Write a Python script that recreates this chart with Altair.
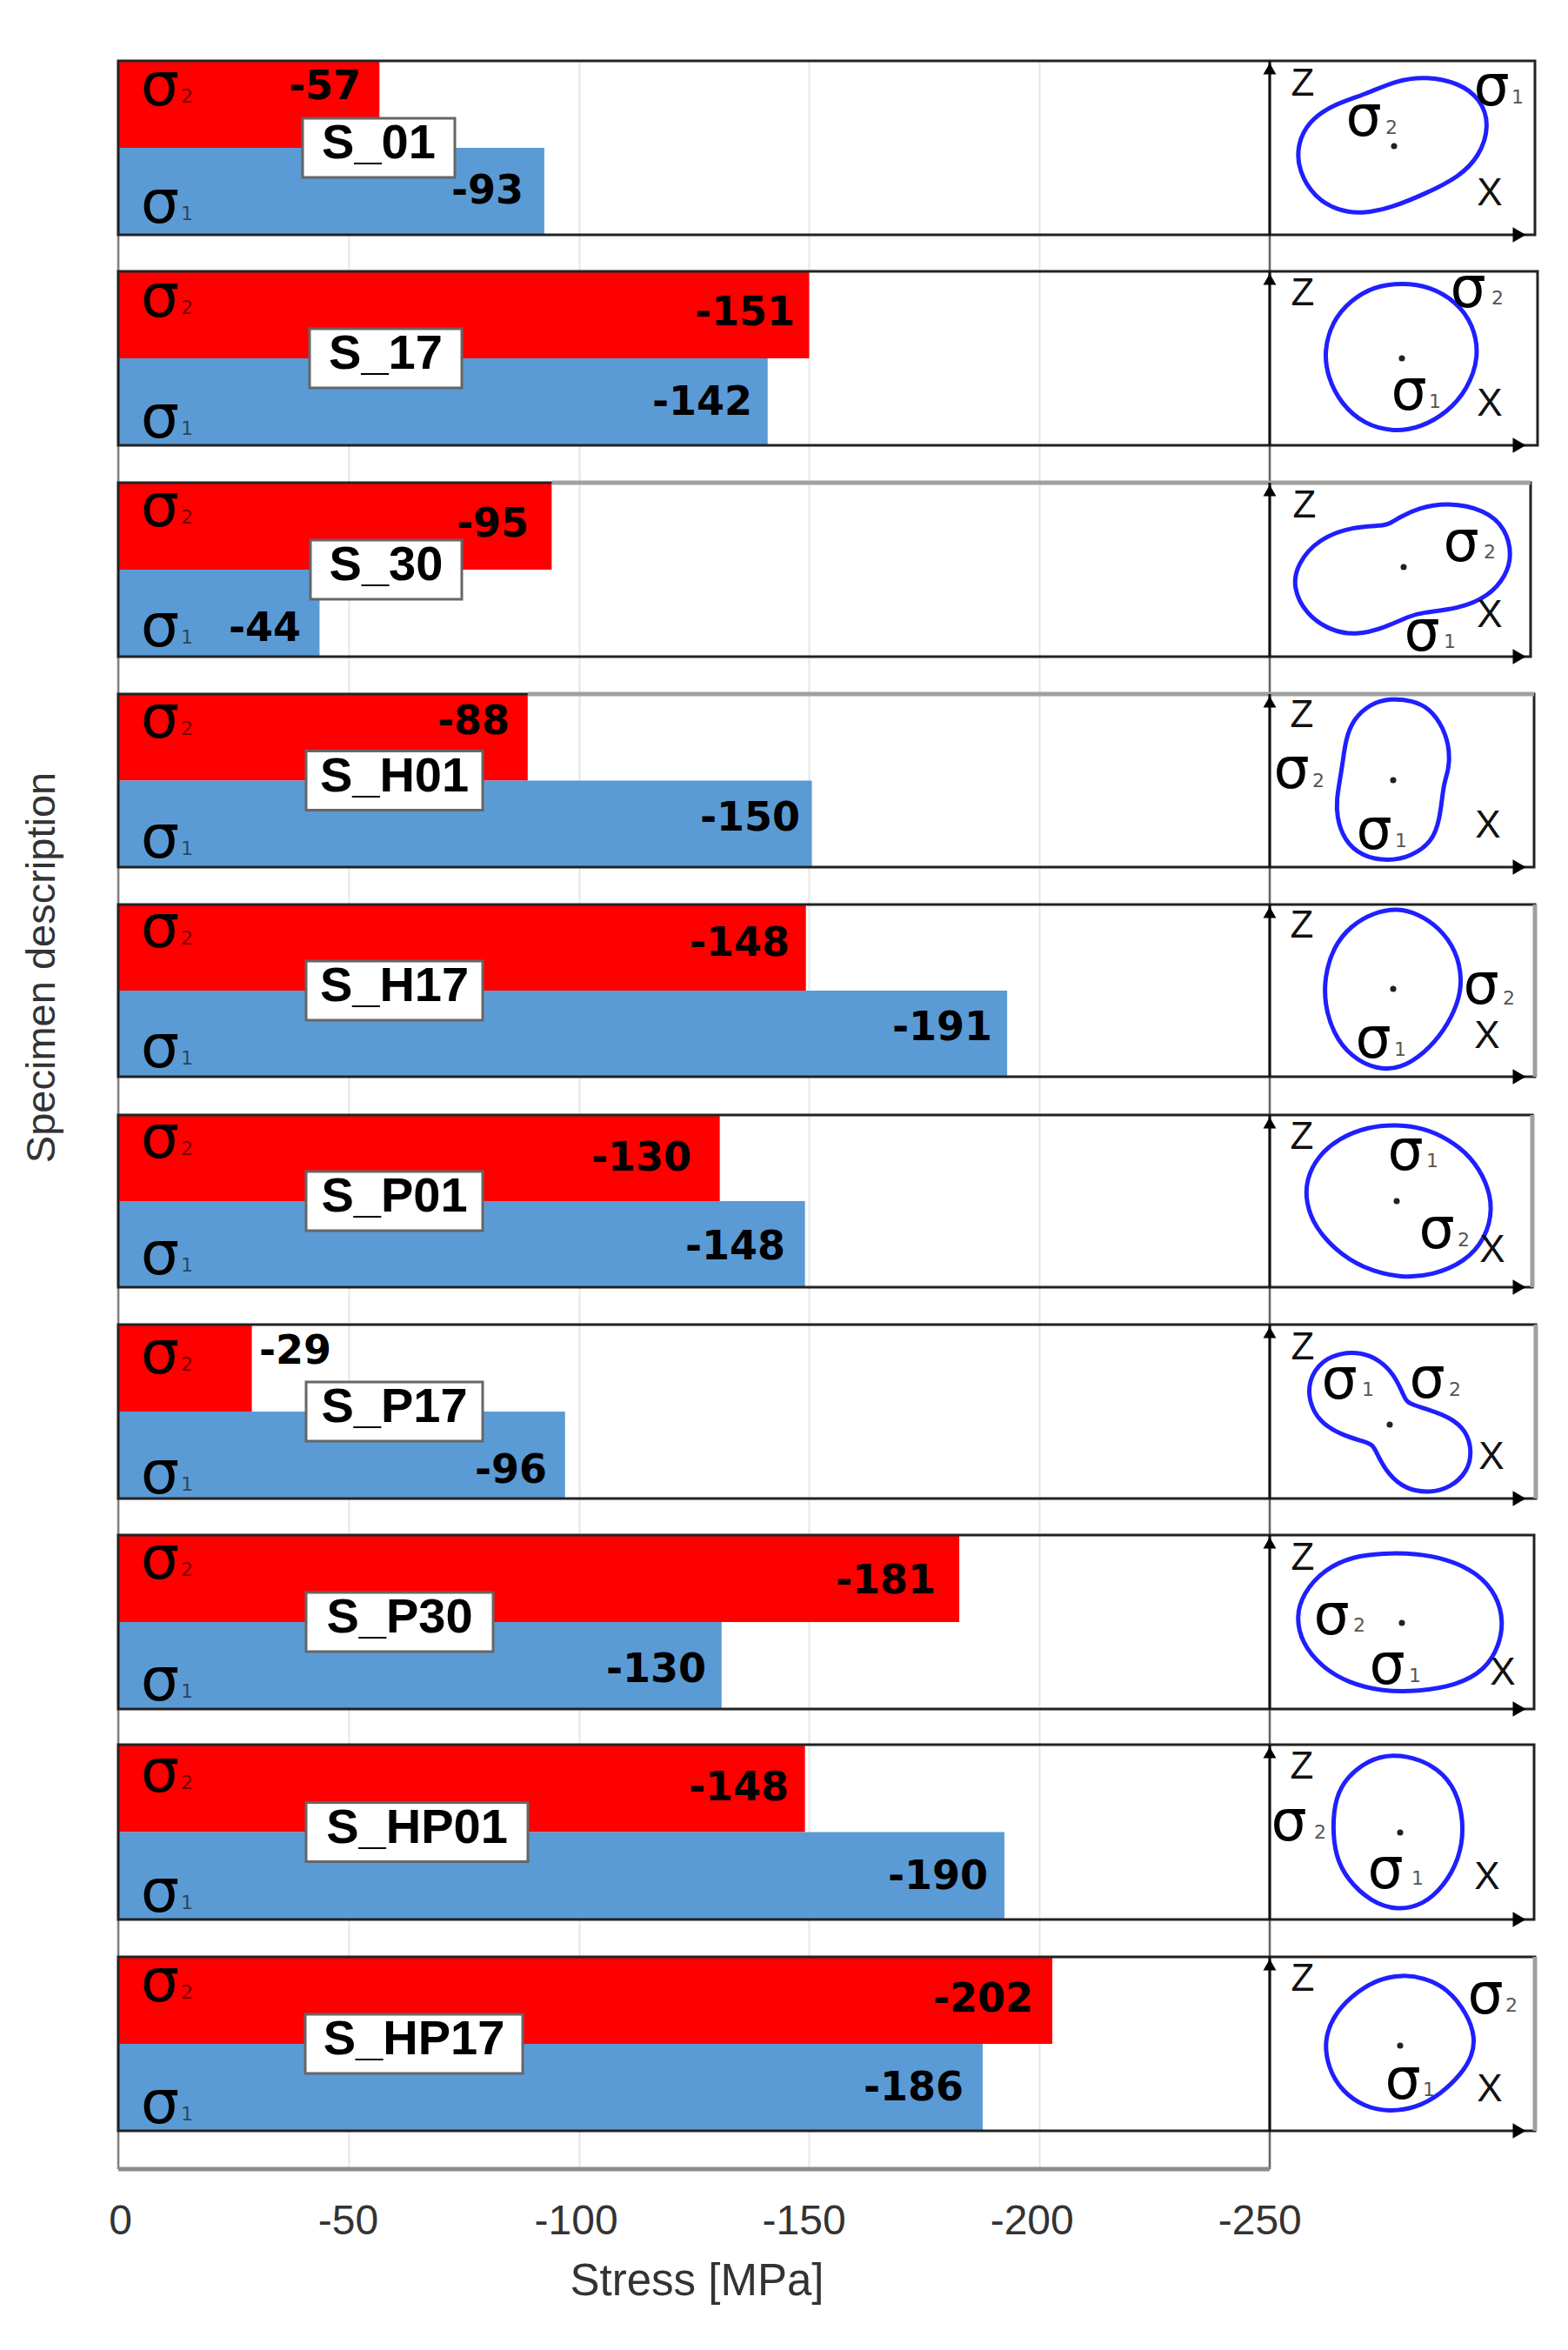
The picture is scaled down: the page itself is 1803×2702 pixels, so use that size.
import altair as alt
import pandas as pd

SPECIMENS = ["S_01", "S_17", "S_30", "S_H01", "S_H17", "S_P01", "S_P17", "S_P30", "S_HP01", "S_HP17"]

# Bar lengths (MPa)
SIGMA2_BAR = [-56.7, -150.0, -94.1, -88.9, -149.3, -130.6, -29.0, -182.6, -149.1, -202.8]
SIGMA1_BAR = [-92.5, -141.0, -43.7, -150.6, -193.0, -149.1, -97.0, -131.0, -192.4, -187.7]
# Printed value labels
SIGMA2_LABEL = [-57, -151, -95, -88, -148, -130, -29, -181, -148, -202]
SIGMA1_LABEL = [-93, -142, -44, -150, -191, -148, -96, -130, -190, -186]

X_TICKS = [0, -50, -100, -150, -200, -250]

# Layout, in image pixels
X0, PX_PER_MPA = 136, 5.296
Y0, PX_PER_ROW = 70, 242.4
PANEL_TOP = [70, 312, 555, 798, 1040, 1282, 1523, 1765, 2006, 2250]
PANEL_BOTTOM = [270, 512, 755, 997, 1238, 1480, 1723, 1965, 2207, 2450]
PANEL_RIGHT = [1765, 1768, 1760, 1764, 1765, 1762, 1766, 1764, 1764, 1765]
GRAY_RIGHT = ["S_H17", "S_P01", "S_P17", "S_HP17"]
GRAY_TOP = ["S_30", "S_H01"]
BOX_LEFT = [348, 356, 357, 352, 352, 352, 352, 352, 352, 351]
BOX_RIGHT = [523, 531, 531, 555, 555, 555, 555, 567, 607, 601]
LBL2_POS = [(415, 97), (914, 357), (608, 600), (586, 827), (908, 1082), (795, 1329), (381, 1551), (1076, 1815), (907, 2053), (1188, 2296)]
LBL1_POS = [(602, 217), (865, 460), (346, 720), (920, 938), (1141, 1179), (903, 1431), (629, 1688), (812, 1917), (1136, 2155), (1108, 2398)]
BAR_SIG2_Y = [102, 345, 586, 829, 1070, 1312, 1560, 1796, 2041, 2282]
BAR_SIG1_Y = [237, 484, 724, 967, 1208, 1446, 1698, 1936, 2179, 2422]
DOT = [(1603, 168), (1612, 412), (1614, 652), (1602, 897), (1602, 1137), (1606, 1381), (1598, 1638), (1612, 1866), (1610, 2107), (1610, 2352)]
Z_POS = [(1498, 97), (1498, 338), (1500, 582), (1497, 823), (1497, 1065), (1497, 1308), (1498, 1550), (1498, 1792), (1497, 2032), (1498, 2276)]
X_POS = [(1713, 223), (1713, 465), (1713, 708), (1711, 950), (1710, 1192), (1716, 1438), (1715, 1676), (1728, 1924), (1710, 2159), (1713, 2403)]
# (sub, glyph x, glyph y, subscript x, subscript y)
PANEL_SIGMAS = [
    ("1", 1715, 103, 1745, 112), ("2", 1568, 138, 1600, 147),
    ("2", 1688, 335, 1722, 343), ("1", 1620, 453, 1650, 462),
    ("2", 1680, 627, 1713, 635), ("1", 1635, 730, 1667, 738),
    ("2", 1485, 888, 1516, 898), ("1", 1580, 958, 1611, 967),
    ("2", 1703, 1136, 1735, 1148), ("1", 1579, 1198, 1610, 1207),
    ("1", 1616, 1327, 1647, 1335), ("2", 1652, 1417, 1683, 1426),
    ("1", 1540, 1590, 1573, 1598), ("2", 1641, 1589, 1673, 1598),
    ("2", 1531, 1861, 1563, 1869), ("1", 1595, 1918, 1627, 1927),
    ("2", 1482, 2098, 1518, 2107), ("1", 1593, 2153, 1630, 2160),
    ("2", 1708, 2297, 1738, 2306), ("1", 1613, 2395, 1643, 2403),
]

OUTLINES = {
    "S_01": ((610, 385), [(935, 315), (905, 225), (830, 170), (720, 148), (620, 160), (510, 210), (400, 245), (320, 300), (280, 380), (285, 470), (340, 560), (420, 605), (500, 615), (600, 595), (720, 545), (830, 490), (900, 420)]),
    "S_17": ((637, 1115), [(900, 1110), (880, 1000), (820, 920), (730, 870), (640, 858), (540, 870), (460, 920), (400, 990), (372, 1090), (385, 1180), (430, 1270), (510, 1340), (610, 1365), (700, 1350), (790, 1300), (860, 1220)]),
    "S_30": ((492, 320), [(860, 280), (840, 190), (770, 125), (640, 100), (540, 120), (480, 150), (445, 172), (420, 180), (320, 182), (200, 225), (130, 310), (115, 390), (160, 480), (240, 535), (330, 553), (430, 525), (510, 487), (550, 475), (680, 462), (780, 420), (840, 350)]),
    "S_H01": ((457, 1056), [(650, 960), (630, 880), (580, 810), (520, 785), (450, 778), (380, 795), (320, 850), (295, 920), (285, 1000), (275, 1060), (265, 1120), (265, 1180), (290, 1260), (350, 1315), (440, 1332), (520, 1315), (590, 1265), (615, 1190), (625, 1100), (632, 1060), (645, 1020)]),
    "S_H17": ((455, 320), [(690, 290), (670, 190), (610, 110), (540, 65), (470, 45), (390, 60), (310, 105), (250, 180), (222, 280), (222, 370), (250, 470), (310, 550), (400, 595), (480, 590), (560, 540), (630, 460), (675, 370)]),
    "S_P01": ((468, 1053), [(795, 1080), (775, 990), (720, 900), (640, 840), (560, 805), (470, 792), (370, 800), (270, 840), (200, 900), (160, 980), (160, 1060), (190, 1140), (260, 1220), (350, 1280), (480, 1315), (590, 1305), (700, 1260), (770, 1180)]),
    "S_P17": ((445, 370), [(725, 460), (705, 390), (650, 345), (580, 320), (525, 303), (502, 292), (490, 265), (460, 200), (410, 150), (350, 125), (280, 125), (210, 155), (170, 220), (170, 290), (205, 360), (280, 405), (360, 428), (388, 438), (402, 470), (440, 540), (500, 590), (580, 602), (650, 585), (710, 530)]),
    "S_P30": ((485, 1052), [(830, 1050), (810, 960), (740, 880), (640, 835), (530, 815), (420, 815), (320, 825), (220, 870), (150, 950), (125, 1030), (145, 1120), (210, 1200), (300, 1255), (420, 1285), (540, 1285), (670, 1265), (770, 1210), (815, 1130)]),
    "S_HP01": ((480, 320), [(697, 310), (680, 200), (630, 120), (550, 70), (450, 52), (370, 75), (300, 130), (260, 200), (250, 300), (260, 400), (300, 480), (380, 555), (470, 585), (560, 565), (630, 500), (680, 410)]),
    "S_HP17": ((480, 1056), [(735, 1030), (710, 950), (640, 860), (560, 825), (490, 815), (400, 830), (310, 890), (250, 960), (222, 1040), (235, 1130), (280, 1210), (360, 1265), (440, 1280), (530, 1270), (620, 1220), (690, 1150), (725, 1090)]),
}

RED, BLUE, CURVE = "#ff0000", "#5b9bd5", "#1f1fff"


def sx(px):
    return -(px - X0) / PX_PER_MPA


def sy(py):
    return (py - Y0) / PX_PER_ROW


WIDTH, HEIGHT = 1636, 2424
x_scale = alt.Scale(domain=[0, sx(X0 + WIDTH)], nice=False, zero=False)
y_scale = alt.Scale(domain=[0, 10], reverse=True, nice=False, zero=False)
x_axis = alt.Axis(
    values=X_TICKS, title="Stress [MPa]", grid=True, gridColor="#e6e6e6", gridWidth=2,
    domain=False, ticks=False, labelFont="Liberation Sans", labelFontSize=48, labelColor="#333",
    labelPadding=36, labelOffset=alt.expr("2 + datum.value * 0.055"),
    labelExpr="datum.value == 0 ? '0' : '-' + abs(datum.value)",
    titleFont="Liberation Sans", titleFontSize=51, titleFontWeight="normal", titleColor="#333",
    titleX=665, titleY=129, titleBaseline="middle", titleAlign="center", labelFlush=False, labelOverlap=False)
y_axis = alt.Axis(
    labels=False, ticks=False, domain=False, grid=False, title="Specimen description",
    titleFont="Liberation Sans", titleFontSize=47, titleFontWeight="normal", titleColor="#333",
    titleX=-88, titleY=1042, titleAngle=-90, titleBaseline="middle", titleAlign="center")
X = alt.X("x:Q", scale=x_scale, axis=x_axis)
Y = alt.Y("y:Q", scale=y_scale, axis=y_axis)
X2 = alt.X2("x2:Q")
Y2 = alt.Y2("y2:Q")

n = len(SPECIMENS)
mid = [(PANEL_TOP[i] + PANEL_BOTTOM[i]) / 2 for i in range(n)]

bars = pd.DataFrame(
    [{"x": 0, "x2": SIGMA2_BAR[i], "y": sy(PANEL_TOP[i]), "y2": sy(mid[i]), "c": RED} for i in range(n)]
    + [{"x": 0, "x2": SIGMA1_BAR[i], "y": sy(mid[i]), "y2": sy(PANEL_BOTTOM[i]), "c": BLUE} for i in range(n)]
)
bar_layer = alt.Chart(bars).mark_rect().encode(x=X, x2=X2, y=Y, y2=Y2, color=alt.Color("c:N", scale=None, legend=None))

axis_frame = pd.DataFrame([
    {"x": 0, "x2": 0, "y": 0, "y2": 10, "w": 2.5, "c": "#808080"},
    {"x": sx(1460), "x2": sx(1460), "y": 0, "y2": 10, "w": 2.5, "c": "#666666"},
    {"x": 0, "x2": sx(1460), "y": 10, "y2": 10, "w": 5, "c": "#8c8c8c"},
])
frame_lines = alt.Chart(axis_frame).mark_rule().encode(
    x=X, x2=X2, y=Y, y2=Y2, color=alt.Color("c:N", scale=None, legend=None), strokeWidth=alt.StrokeWidth("w:Q", scale=None, legend=None))

panels = pd.DataFrame({
    "x": [0] * n, "x2": [sx(v) for v in PANEL_RIGHT],
    "y": [sy(v) for v in PANEL_TOP], "y2": [sy(v) for v in PANEL_BOTTOM],
})
panel_layer = alt.Chart(panels).mark_rect(fill=None, stroke="#222222", strokeWidth=3).encode(x=X, x2=X2, y=Y, y2=Y2)

vert = pd.DataFrame({"x": [sx(1460)] * n, "x2": [sx(1460)] * n, "y": panels["y"], "y2": panels["y2"]})
vert_layer = alt.Chart(vert).mark_rule(color="#111111", strokeWidth=3).encode(x=X, x2=X2, y=Y, y2=Y2)

gray_rows = []
for name in GRAY_RIGHT:
    i = SPECIMENS.index(name)
    gray_rows.append({"x": sx(PANEL_RIGHT[i]), "x2": sx(PANEL_RIGHT[i]),
                      "y": sy(PANEL_TOP[i]), "y2": sy(PANEL_BOTTOM[i])})
for name in GRAY_TOP:
    i = SPECIMENS.index(name)
    gray_rows.append({"x": SIGMA2_BAR[i], "x2": sx(PANEL_RIGHT[i]),
                      "y": sy(PANEL_TOP[i]), "y2": sy(PANEL_TOP[i])})
gray_layer = alt.Chart(pd.DataFrame(gray_rows)).mark_rule(color="#a0a0a0", strokeWidth=5).encode(
    x=X, x2=X2, y=Y, y2=Y2)

up = pd.DataFrame({"x": [sx(1460)] * n, "y": [sy(t + 9) for t in PANEL_TOP]})
up_layer = alt.Chart(up).mark_point(shape="triangle-up", filled=True, size=220, color="#000000", opacity=1).encode(x=X, y=Y)
right = pd.DataFrame({"x": [sx(1747)] * n, "y": [sy(b) for b in PANEL_BOTTOM]})
right_layer = alt.Chart(right).mark_point(shape="triangle-right", filled=True, size=300, color="#000000", opacity=1).encode(x=X, y=Y)

curve_rows = []
for i, name in enumerate(SPECIMENS):
    (dx, dy), pts = OUTLINES[name]
    cx = sum(p[0] for p in pts) / len(pts)
    cy = sum(p[1] for p in pts) / len(pts)
    for k, (px, py) in enumerate(pts):
        # 1.5 % outwards: compensates the slight shrink of the closed spline
        gx = cx + (px - cx) * 1.015
        gy = cy + (py - cy) * 1.015
        curve_rows.append({"name": name, "k": k,
                           "x": sx(DOT[i][0] + (gx - dx) / 3),
                           "y": sy(DOT[i][1] + (gy - dy) / 3)})
curve_layer = alt.Chart(pd.DataFrame(curve_rows)).mark_line(
    interpolate="basis-closed", color=CURVE, strokeWidth=5).encode(
    x=X, y=Y, detail="name:N", order="k:Q")

dots = pd.DataFrame({"x": [sx(d[0]) for d in DOT], "y": [sy(d[1]) for d in DOT]})
dot_layer = alt.Chart(dots).mark_point(shape="circle", filled=True, size=50, color="#222222", opacity=1).encode(x=X, y=Y)

boxes = pd.DataFrame({
    "x": [sx(v) for v in BOX_LEFT], "x2": [sx(v) for v in BOX_RIGHT],
    "y": [sy(m - 34) for m in mid], "y2": [sy(m + 34) for m in mid],
})
box_layer = alt.Chart(boxes).mark_rect(fill="#ffffff", stroke="#666666", strokeWidth=3).encode(x=X, x2=X2, y=Y, y2=Y2)


def text_layer(rows, font, size, color="#000000", bold=False, align="center", opacity=1):
    return alt.Chart(pd.DataFrame(rows)).mark_text(
        font=font, fontSize=size, color=color, fontWeight="bold" if bold else "normal",
        align=align, baseline="middle", opacity=opacity).encode(x=X, y=Y, text="t:N")


box_text = text_layer(
    [{"x": sx((BOX_LEFT[i] + BOX_RIGHT[i]) / 2), "y": sy(mid[i] - 5), "t": SPECIMENS[i]} for i in range(n)],
    "Liberation Sans", 56, bold=True)
val_text = text_layer(
    [{"x": sx(LBL2_POS[i][0]), "y": sy(LBL2_POS[i][1] + 3), "t": str(SIGMA2_LABEL[i])} for i in range(n)]
    + [{"x": sx(LBL1_POS[i][0]), "y": sy(LBL1_POS[i][1] + 3), "t": str(SIGMA1_LABEL[i])} for i in range(n)],
    "DejaVu Sans", 46, bold=True, align="right")
bar_sig = text_layer(
    [{"x": sx(184), "y": sy(v - 2), "t": "σ"} for v in BAR_SIG2_Y + BAR_SIG1_Y],
    "DejaVu Sans", 70)
bar_sub = text_layer(
    [{"x": sx(215), "y": sy(v + 9), "t": "2"} for v in BAR_SIG2_Y]
    + [{"x": sx(215), "y": sy(v + 9), "t": "1"} for v in BAR_SIG1_Y],
    "DejaVu Sans", 22, color="#000000", opacity=0.55)
panel_sig = text_layer(
    [{"x": sx(s[1]), "y": sy(s[2] - 2), "t": "σ"} for s in PANEL_SIGMAS], "DejaVu Sans", 65)
panel_sub = text_layer(
    [{"x": sx(s[3]), "y": sy(s[4]), "t": s[0]} for s in PANEL_SIGMAS],
    "DejaVu Sans", 22, color="#555555")
zx_text = text_layer(
    [{"x": sx(p[0]), "y": sy(p[1]), "t": "Z"} for p in Z_POS]
    + [{"x": sx(p[0]), "y": sy(p[1]), "t": "X"} for p in X_POS],
    "Liberation Sans", 44, color="#111111")

chart = alt.layer(
    bar_layer, frame_lines, panel_layer, gray_layer, vert_layer, up_layer, right_layer,
    curve_layer, dot_layer, box_layer, box_text, val_text, bar_sig, bar_sub,
    panel_sig, panel_sub, zx_text,
).properties(
    width=WIDTH, height=HEIGHT,
    autosize=alt.AutoSizeParams(type="none"),
    padding={"left": 128, "top": 62, "right": 8, "bottom": 200},
).configure_view(stroke=None)

chart.save("out.html", embed_options={"renderer": "svg", "actions": False})
